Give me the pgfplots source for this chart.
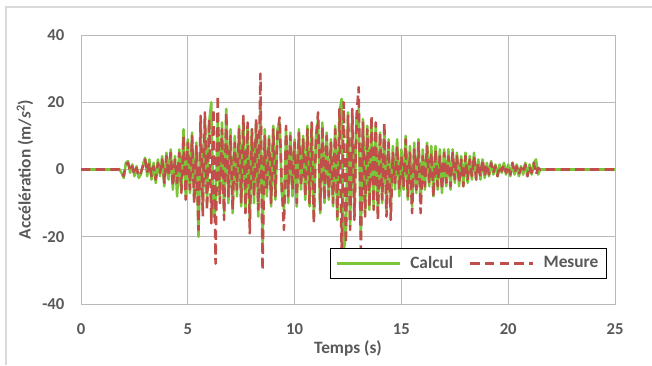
\documentclass[border=0pt]{standalone}
\usepackage{pgfplots}
\pgfplotsset{compat=1.18}
\usepackage{fontspec}
\setmainfont{Carlito}
\definecolor{calc}{RGB}{122,198,56}
\definecolor{mes}{RGB}{192,78,74}
\definecolor{txt}{RGB}{89,89,89}
\definecolor{grd}{RGB}{185,185,185}
\begin{document}
\begin{tikzpicture}
\useasboundingbox (0pt,0pt) rectangle (489pt,273.75pt);
\draw[color={rgb,255:red,217;green,217;blue,217},line width=1pt] (4.5pt,0pt) -- (4.5pt,268.5pt) -- (489pt,268.5pt);
\begin{axis}[
  at={(60.75pt,45.75pt)}, anchor=south west,
  scale only axis, width=400.5pt, height=201.75pt,
  xmin=0, xmax=25, ymin=-40, ymax=40,
  xtick={0,5,...,25}, ytick={-40,-20,0,20,40},
  grid=major, grid style={grd, line width=0.7pt},
  axis line style={grd, line width=0.7pt},
  major tick length=0pt,
  /pgf/number format/assume math mode=true,
  ticklabel style={font=\bfseries\fontsize{12.5}{14}\selectfont, text=txt},
  xticklabel style={yshift=-11pt},
  yticklabel style={xshift=-9pt},
  xlabel={Temps (s)}, ylabel={Accélération (m/\textit{s}\textsuperscript{2})},
  label style={font=\bfseries\fontsize{13}{15}\selectfont, text=txt},
  xlabel style={at={(axis description cs:0.5,-0.1636)}, anchor=center},
  ylabel style={at={(axis description cs:-0.105,0.5)}, anchor=center},
  legend style={draw=black, line width=0.9pt, anchor=south east, at={(rel axis cs:0.985,0.093)},
    font=\bfseries\fontsize{13}{15}\selectfont, text=txt, inner xsep=4pt, inner ysep=4pt},
  legend columns=2,
  legend cell align=left,
  /tikz/every odd column/.append style={column sep=5pt},
  /tikz/every even column/.append style={column sep=10pt},
  legend image code/.code={\draw[#1] (0pt,0pt) -- (47pt,0pt);},
]
\addplot[calc, line width=1.9pt, line join=round] coordinates {
(0,0)(1.8,0)(1.9,-1)(2.0,-2.5)(2.1,2)(2.2,2.5)(2.3,-1)(2.4,1.5)(2.5,-2)(2.6,1)(2.7,-2.5)(2.8,-1.5)(2.9,1.5)
(3.0,3.5)(3.1,-2)(3.2,3)(3.3,-3)(3.4,2)(3.5,-4)(3.6,3)(3.7,-2)(3.8,4)(3.9,-5)
(4.0,5)(4.1,-3)(4.2,6)(4.3,-6)(4.4,4)(4.5,-8)(4.6,6)(4.7,-6)(4.8,12)(4.9,-8)
(5.0,9)(5.1,-7)(5.2,11)(5.3,-9)(5.4,8)(5.5,-20)(5.6,14)(5.7,-12)(5.8,15)(5.9,-10)
(6.0,14)(6.1,20)(6.2,-14)(6.3,-12)(6.4,15)(6.5,-9)(6.6,14)(6.7,-13)(6.8,18)(6.9,-10)
(7.0,12)(7.1,-13)(7.2,10)(7.3,-8)(7.4,13)(7.5,-11)(7.6,15)(7.7,-12)(7.8,13)(7.9,-15)
(8.0,12)(8.1,-10)(8.2,14)(8.3,-14)(8.4,20)(8.5,-22)(8.6,12)(8.7,-8)(8.8,10)(8.9,-11)
(9.0,13)(9.1,-9)(9.2,12)(9.3,14)(9.4,-7)(9.5,-12)(9.6,12)(9.7,-10)(9.8,11)(9.9,-8)
(10.0,9)(10.1,-11)(10.2,12)(10.3,-6)(10.4,10)(10.5,-9)(10.6,13)(10.7,-11)(10.8,13)(10.9,-14)
(11.0,10)(11.1,15)(11.2,-13)(11.3,14)(11.4,-10)(11.5,11)(11.6,-9)(11.7,9)(11.8,-11)(11.9,13)
(12.0,-15)(12.1,17)(12.2,21)(12.3,-24)(12.4,-20)(12.5,17)(12.6,-17)(12.7,17)(12.8,-14)(12.9,15)
(13.0,18)(13.1,-20)(13.2,15)(13.3,-13)(13.4,13)(13.5,-12)(13.6,15)(13.7,-11)(13.8,13)(13.9,-13)
(14.0,11)(14.1,-10)(14.2,12)(14.3,-12)(14.4,9)(14.5,-12)(14.6,7)(14.7,-6)(14.8,9)(14.9,-8)
(15.0,6)(15.1,-6)(15.2,10)(15.3,-9)(15.4,7)(15.5,-11)(15.6,8)(15.7,-7)(15.8,9)(15.9,-10)
(16.0,6)(16.1,-6)(16.2,8)(16.3,-5)(16.4,7)(16.5,-8)(16.6,7)(16.7,-6)(16.8,6)(16.9,-7)
(17.0,6)(17.1,-5)(17.2,6)(17.3,-6)(17.4,6)(17.5,-4)(17.6,5)(17.7,-5)(17.8,4)(17.9,-5)
(18.0,5)(18.1,-4)(18.2,4)(18.3,-3)(18.4,5)(18.5,-3)(18.6,3)(18.7,-3)(18.8,3)(18.9,-2.5)
(19.0,2)(19.1,-2)(19.2,2.5)(19.3,-1.5)(19.4,1.5)(19.5,-2)(19.6,1.5)(19.7,-1)(19.8,2)(19.9,-1.5)
(20.0,1.5)(20.1,-2)(20.2,2)(20.3,-1.5)(20.4,1.5)(20.5,-2)(20.6,1)(20.7,-1.5)(20.8,2)(20.9,-2)
(21.0,1.5)(21.1,-1.5)(21.2,2)(21.3,3)(21.4,-1.5)(21.5,0)(25,0)
};
\addlegendentry{Calcul}
\addplot[mes, line width=1.9pt, dash pattern=on 7pt off 4pt, line join=round] coordinates {
(0,0)(1.8,0)(1.9,-0.5)(2.0,-2)(2.1,1.5)(2.2,2)(2.3,-0.5)(2.4,1)(2.5,-1.5)(2.6,0.5)(2.7,-2)(2.8,-1)(2.9,1)
(3.0,3)(3.1,-1)(3.2,2)(3.3,-2)(3.4,1)(3.5,-3)(3.6,2)(3.7,-1)(3.8,3)(3.9,-4)
(4.0,4)(4.1,-2)(4.2,5)(4.3,-5)(4.4,3)(4.5,-4)(4.6,5)(4.7,-7)(4.8,10)(4.9,-9)
(5.0,8)(5.1,-6)(5.2,10)(5.3,-10)(5.4,7)(5.5,-18)(5.6,16)(5.7,-14)(5.8,17)(5.9,-12)
(6.0,15)(6.1,-16)(6.2,18)(6.3,-28)(6.4,22)(6.5,-10)(6.6,12)(6.7,-15)(6.8,17)(6.9,-8)
(7.0,10)(7.1,-12)(7.2,8)(7.3,-6)(7.4,12)(7.5,-10)(7.6,16)(7.7,-13)(7.8,14)(7.9,-19)
(8.0,12)(8.1,-8)(8.2,15)(8.3,-12)(8.4,28.5)(8.5,-30)(8.6,10)(8.7,-6)(8.8,9)(8.9,-10)
(9.0,12)(9.1,-8)(9.2,11)(9.3,15.5)(9.4,-5)(9.5,-18)(9.6,13)(9.7,-8)(9.8,10)(9.9,-6)
(10.0,8)(10.1,-10)(10.2,11)(10.3,-5)(10.4,9)(10.5,-8)(10.6,12)(10.7,-10)(10.8,14)(10.9,-16)
(11.0,9)(11.1,17)(11.2,-12)(11.3,13)(11.4,-9)(11.5,10)(11.6,-8)(11.7,8)(11.8,-10)(11.9,12)
(12.0,-14)(12.1,18)(12.2,-26)(12.3,20)(12.4,-22)(12.5,16)(12.6,-18)(12.7,18)(12.8,-15)(12.9,16)
(13.0,24.5)(13.1,-24)(13.2,14)(13.3,-14)(13.4,12)(13.5,-11)(13.6,16)(13.7,-12)(13.8,14)(13.9,-15)
(14.0,11)(14.1,-9)(14.2,14)(14.3,-14)(14.4,8)(14.5,-15)(14.6,5)(14.7,-4)(14.8,7)(14.9,-6)
(15.0,4)(15.1,-5)(15.2,9)(15.3,-8)(15.4,5)(15.5,-13)(15.6,6)(15.7,-6)(15.8,8)(15.9,-13)
(16.0,4)(16.1,-5)(16.2,7)(16.3,-4)(16.4,5)(16.5,-8)(16.6,6)(16.7,-5)(16.8,4)(16.9,-6)
(17.0,5)(17.1,-4)(17.2,4)(17.3,-5)(17.4,5)(17.5,-3)(17.6,4)(17.7,-4)(17.8,3)(17.9,-5)
(18.0,4)(18.1,-3)(18.2,3)(18.3,-2)(18.4,4)(18.5,-3)(18.6,2)(18.7,-2)(18.8,3)(18.9,-2)
(19.0,1.5)(19.1,-1.5)(19.2,2)(19.3,-1)(19.4,1)(19.5,-2)(19.6,1)(19.7,-0.5)(19.8,1.5)(19.9,-1)
(20.0,1)(20.1,-1.5)(20.2,2)(20.3,-1)(20.4,1)(20.5,-1.5)(20.6,0.5)(20.7,-1)(20.8,1.5)(20.9,-2)
(21.0,1)(21.1,-1)(21.2,2)(21.3,-1.5)(21.4,0.5)(21.5,0)(25,0)
};
\addlegendentry{Mesure}
\end{axis}
\end{tikzpicture}
\end{document}
